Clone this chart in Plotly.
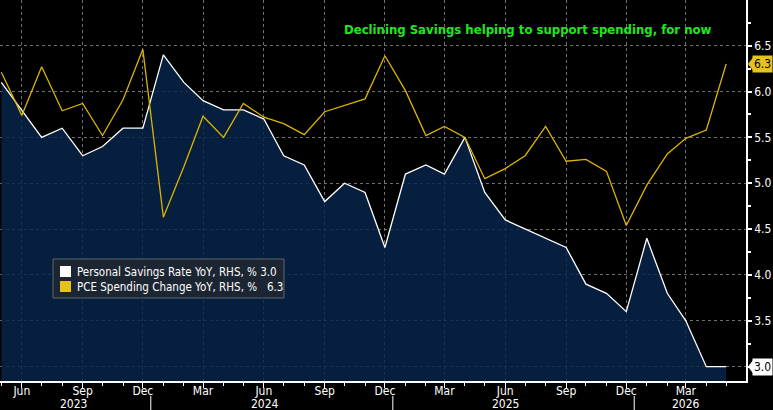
import plotly.graph_objects as go
import pandas as pd

# ---- data ----
months = pd.date_range("2023-05-01", "2026-05-01", freq="MS").strftime("%Y-%m-%d").tolist()

savings_rate = [6.1, 5.8, 5.5, 5.6, 5.3, 5.4, 5.6, 5.6,
                6.4, 6.1, 5.9, 5.8, 5.8, 5.7, 5.3, 5.2, 4.8, 5.0, 4.9, 4.3,
                5.1, 5.2, 5.1, 5.5, 4.9, 4.6, 4.5, 4.4, 4.3, 3.9, 3.8, 3.6,
                4.4, 3.8, 3.5, 3.0, 3.0]

pce_change = [6.21, 5.74, 6.27, 5.79, 5.87, 5.52, 5.91, 6.46,
              4.63, 5.18, 5.73, 5.50, 5.87, 5.72, 5.65, 5.53, 5.78, 5.85, 5.92, 6.39,
              6.01, 5.52, 5.62, 5.50, 5.05, 5.16, 5.30, 5.62, 5.24, 5.26, 5.13, 4.54,
              4.98, 5.32, 5.49, 5.58, 6.30]

name_sav = "Personal Savings Rate YoY, RHS, % 3.0"
name_pce = "PCE Spending Change YoY, RHS, %\u00a0\u00a0\u00a06.3"
title_text = "Declining Savings helping to support spending, for now"
years = ["2023", "2024", "2025", "2026"]
year_pos = ["2023-08-18", "2024-06-03", "2025-06-01", "2026-03-01"]
year_sep = ["2023-12-13", "2024-12-13", "2025-12-13"]

FONT = "DejaVu Sans Condensed, Liberation Sans Narrow, Arial Narrow, sans-serif"
NAVY = "rgba(7,38,76,0.82)"
YELLOW = "#dcb400"
YELLOW_BOX = "#e6c21c"

PW, PH = 746.0, 381.0  # plot area size in px

fig = go.Figure()
fig.add_trace(go.Scatter(x=months, y=savings_rate, mode="lines", name=name_sav,
                         line=dict(color="white", width=1.3),
                         fill="tozeroy", fillcolor=NAVY,
                         showlegend=False, hoverinfo="skip"))
fig.add_trace(go.Scatter(x=months, y=pce_change, mode="lines", name=name_pce,
                         line=dict(color=YELLOW, width=1.3),
                         showlegend=False, hoverinfo="skip"))

grid = "rgba(150,150,150,0.75)"
fig.update_layout(
    width=773, height=410,
    margin=dict(l=0, r=27, t=0, b=29),
    paper_bgcolor="black", plot_bgcolor="black",
    font=dict(family=FONT, color="white", size=12),
    showlegend=False,
    xaxis=dict(type="date", range=["2023-04-29", "2026-05-31"],
               tick0="2023-03-01", dtick="M3", tickformat="%b",
               ticks="outside", ticklen=5, tickcolor="white",
               ticklabelstandoff=-7,
               showline=True, linecolor="white", linewidth=1.5,
               showgrid=True, gridcolor=grid, griddash="dot", gridwidth=1,
               tickfont=dict(size=12, color="white"),
               minor=dict(dtick="M1", ticks="outside", ticklen=3, tickcolor="white", showgrid=False),
               zeroline=False, fixedrange=True),
    yaxis=dict(side="right", range=[2.844, 6.998],
               tick0=3.0, dtick=0.5, tickformat=".1f",
               ticks="outside", ticklen=4, tickwidth=2, tickcolor="white",
               showline=True, linecolor="white", linewidth=1.5,
               showgrid=True, gridcolor=grid, griddash="dot", gridwidth=1,
               tickfont=dict(size=12, color="white"),
               minor=dict(dtick=0.25, ticks="outside", ticklen=3, tickcolor="white", showgrid=False),
               zeroline=False, fixedrange=True),
)

# title
fig.add_annotation(text="<b>" + title_text + "</b>", x=527/PW, y=(PH-29)/PH,
                   xref="paper", yref="paper", showarrow=False,
                   xanchor="center", yanchor="middle",
                   font=dict(color="#22e622", size=13, family=FONT))

# legend box (drawn manually to match the reference's compact legend)
fig.add_shape(type="rect", xref="paper", yref="paper",
              x0=53/PW, x1=284/PW, y0=(PH-298)/PH, y1=(PH-259)/PH,
              fillcolor="#1c2632", line=dict(color="#5d6670", width=1), layer="above")
for i, (nm, col) in enumerate([(name_sav, "white"), (name_pce, YELLOW_BOX)]):
    yc = 271.5 + 15 * i
    fig.add_shape(type="rect", xref="paper", yref="paper",
                  x0=60/PW, x1=71/PW, y0=(PH-yc-5.5)/PH, y1=(PH-yc+5.5)/PH,
                  fillcolor=col, line=dict(width=0), layer="above")
    fig.add_annotation(text=nm, x=75/PW, y=(PH-yc)/PH, xref="paper", yref="paper",
                       xanchor="left", yanchor="middle", showarrow=False,
                       font=dict(color="white", size=11.5, family=FONT))

# year labels & separators
for yl, yp in zip(years, year_pos):
    fig.add_annotation(text=yl, x=yp, y=-0.061, xref="x", yref="paper",
                       showarrow=False, yanchor="middle",
                       font=dict(size=12, color="white"))
for sp in year_sep:
    fig.add_shape(type="line", x0=sp, x1=sp, y0=-0.039, y1=-0.08,
                  xref="x", yref="paper", line=dict(color="white", width=1))

# last value labels
for val, bg in [(pce_change[-1], YELLOW_BOX), (savings_rate[-1], "white")]:
    fig.add_annotation(text=f"{val:.1f}", x=1, y=val, xref="paper", yref="y",
                       xanchor="left", yanchor="middle", xshift=6, showarrow=False,
                       bgcolor=bg, borderpad=1, font=dict(color="black", size=12))
    fig.add_shape(type="path", xref="paper", yref="y",
                  xsizemode="pixel", ysizemode="pixel", xanchor=1, yanchor=val,
                  path="M 2,0 L 7,6.5 L 7,-6.5 Z", fillcolor=bg, line=dict(width=0))

fig.write_html("out.html")
